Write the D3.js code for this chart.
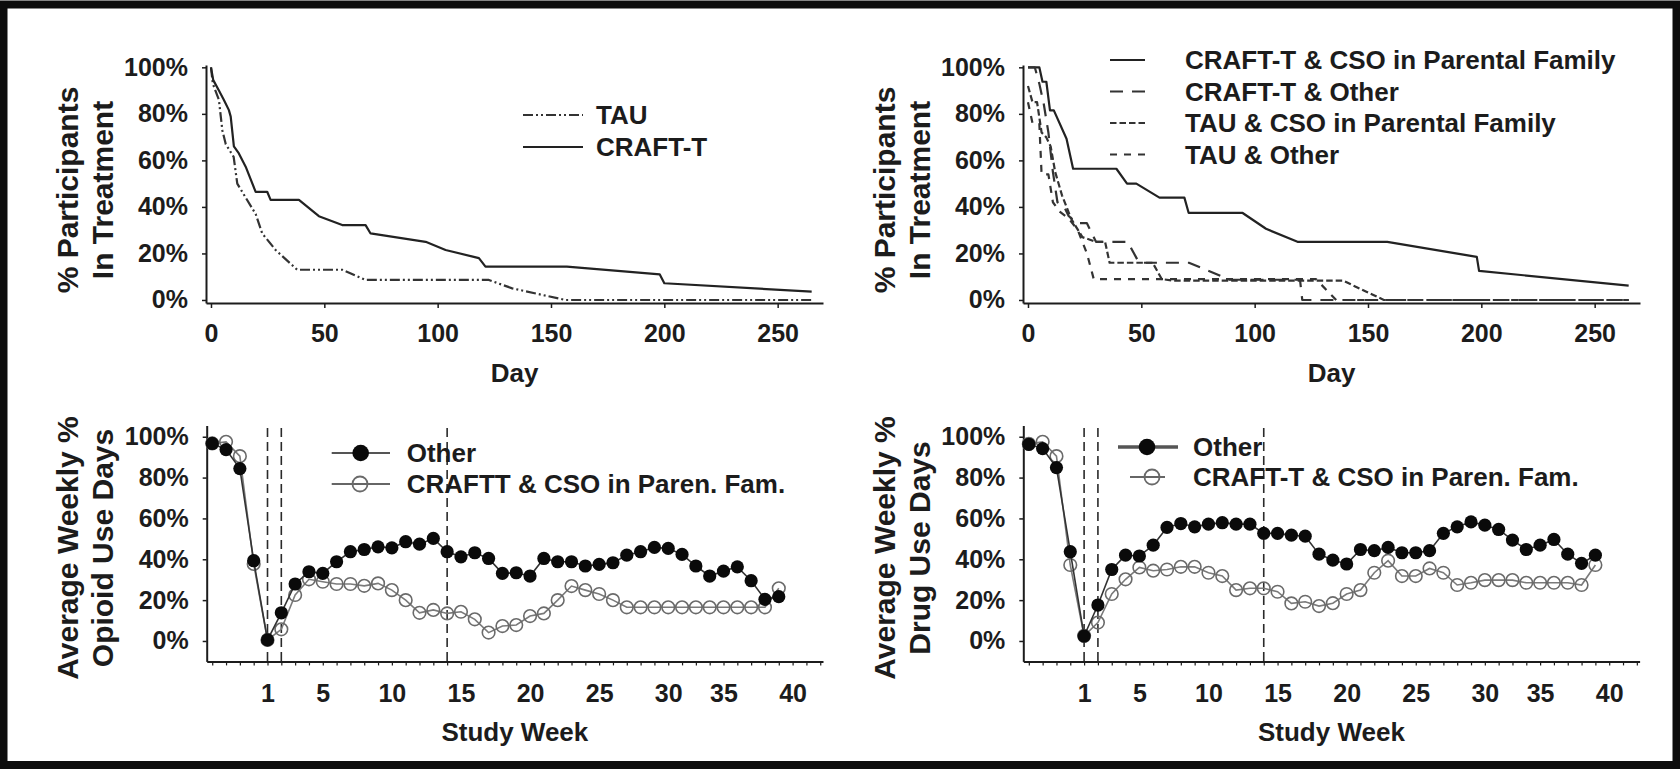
<!DOCTYPE html>
<html><head><meta charset="utf-8">
<script src="https://cdn.jsdelivr.net/npm/d3@7"></script>
<style>
body{margin:0;background:#fff}
svg{display:block}
</style>
</head><body>
<svg id="c" width="1680" height="769"></svg>
<script>
// ---------- DATA ----------
const dayTicks = [0, 50, 100, 150, 200, 250];
const pctTicks = [0, 20, 40, 60, 80, 100];

// Top-left: retention (Kaplan-Meier style)
const tauDay   = [0, 0.8, 3.5, 5, 6.5, 10, 11.6, 15.3, 19.7, 22.6, 28.5, 38, 57.9, 68.2, 122.6, 132.9, 156.4, 265];
const tauPct   = [100, 93, 86, 73, 67, 61.5, 50, 44, 37, 28.6, 21.5, 13, 13, 8.6, 8.6, 5, 0, 0];
const craftDay = [0, 1, 3.5, 5.7, 7.9, 8.7, 10.1, 12.3, 15.3, 19.7, 24.8, 26.3, 38.8, 47.6, 57.9, 68.2, 70.4, 94.7, 103.5, 118.2, 121.1, 157, 198, 200, 265];
const craftPct = [100, 94.5, 90, 86, 81.6, 78.8, 66, 63, 57.3, 46.5, 46.5, 43, 43, 36, 32.2, 32.2, 28.6, 25, 21.5, 18, 14.3, 14.3, 11, 7.2, 3.6];

// Top-right: retention by group
const csoCraftDay   = [0, 5, 6.4, 8.1, 9.7, 11.4, 17, 19.9, 39, 43.7, 47.8, 58, 69, 70.9, 94.7, 105, 118.9, 158.5, 198, 199, 265];
const csoCraftPct   = [100, 100, 93.8, 93.8, 81.5, 81.5, 69.3, 56.4, 56.4, 50, 50, 44, 44, 37.4, 37.4, 30.6, 25, 25, 18.5, 12.5, 6.2];
const otherCraftDay = [0, 3, 5, 7, 9, 11, 13, 16, 18, 22, 26, 30, 39, 44, 49, 71, 89, 120, 121, 265];
const otherCraftPct = [100, 100, 93, 84, 72, 55, 42, 40, 36, 33, 33, 25, 25, 25, 16, 16, 8.7, 8.7, 0, 0];
const csoTauDay     = [0, 2, 4, 6, 8, 10, 12, 15, 19, 24, 30, 34, 36, 55, 59, 64, 139, 157, 265];
const csoTauPct     = [92, 85, 85, 72, 70, 66, 55, 45, 35, 27, 25, 25, 16, 16, 9, 8.3, 8.3, 0, 0];
const otherTauDay   = [0, 2, 5, 6, 9, 11, 14, 18, 22, 26, 29, 127, 136, 265];
const otherTauPct   = [85, 76, 76, 54, 54, 42, 38, 35, 30, 20, 9, 9, 0, 0];

// Bottom: weekly % use days, one value per plotted week slot (4 baseline slots, then study weeks)
const weekLabelText = ["1", "5", "10", "15", "20", "25", "30", "35", "40"];
const weekLabelSlot = [4, 8, 13, 18, 23, 28, 33, 37, 42];
const phaseSlots    = [4, 5, 17];

const otherOpioid = [96.7, 93.7, 84.4, 39.3, 0.5, 13.8, 27.9, 33.9, 33.1, 38.8, 43.7, 44.8, 46.1, 45.6, 48.6, 47.4, 50.2, 43.7, 41.2, 43.2, 40.4, 33.1, 33.4, 31.8, 40.4, 38.8, 38.8, 36.7, 37.5, 38.3, 42, 43.7, 45.8, 45.3, 42.4, 36.7, 31.8, 34.2, 36.3, 29.5, 20.4, 21.7];
const craftOpioid = [96.7, 97.5, 90.5, 37.7, 0.5, 5.7, 22.5, 30.2, 29, 27.9, 27.9, 27, 28.2, 24.9, 20, 13.8, 15.2, 13.5, 14.3, 10.6, 4.1, 7.3, 7.8, 12.2, 13.5, 20, 26.9, 24.9, 23, 20, 16.5, 16.5, 16.5, 16.5, 16.5, 16.5, 16.5, 16.5, 16.5, 16.5, 16.5, 25.8];
const otherDrug   = [96.3, 94.2, 84.9, 43.7, 2.4, 17.6, 35, 42, 41.6, 46.9, 55.6, 57.5, 55.9, 57.2, 57.9, 57.2, 57.2, 52.7, 52.7, 51.8, 51.3, 42.5, 39.6, 37.7, 44.8, 44.2, 45.8, 43.2, 43.2, 44.2, 52.7, 55.9, 58.3, 56.7, 54.6, 49.4, 44.8, 46.9, 49.7, 42.5, 38, 42];
const craftDrug   = [96.5, 97.5, 90.5, 37.2, 2.5, 9, 23, 30.2, 36, 34.4, 35, 36.3, 36.3, 33.4, 31.8, 24.9, 25.8, 25.8, 24.1, 18.4, 19.2, 17.1, 18.5, 23, 24.9, 33.4, 39.3, 31.8, 31.8, 35.5, 33.4, 27.4, 28.5, 29.8, 29.8, 29.8, 28.5, 28.5, 28.5, 28.5, 27.4, 37.2];

// ---------- DRAWING ----------
const FONT = '"Liberation Sans", Arial, Helvetica, sans-serif';
const INK = "#1c1c1c";
const svg = d3.select("#c");
svg.append("rect").attr("width", 1680).attr("height", 769).attr("fill", "#fff");
svg.append("rect").attr("x", 3.5).attr("y", 4.5).attr("width", 1673).attr("height", 760.5)
  .attr("fill", "none").attr("stroke", "#0d0d0d").attr("stroke-width", 8);

function styleAxis(g, fs) {
  g.attr("font-family", FONT).attr("font-size", fs).attr("font-weight", "bold").attr("color", INK);
  g.select(".domain").attr("stroke-width", 2);
  g.selectAll(".tick line").attr("stroke-width", 1.5);
}
function addText(x, y, str, fs, anchor, rot) {
  const t = svg.append("text").attr("font-family", FONT).attr("font-weight", "bold")
    .attr("font-size", fs).attr("fill", INK).attr("text-anchor", anchor || "start").text(str);
  if (rot) t.attr("transform", `translate(${x},${y}) rotate(-90)`);
  else t.attr("x", x).attr("y", y);
  return t;
}
const zip = (a, b) => a.map((v, i) => [v, b[i]]);

function survivalPanel(dx, series, legend) {
  const x = d3.scaleLinear().domain([-2.2, 270]).range([206 + dx, 823 + dx]);
  const y = d3.scaleLinear().domain([-1.3, 101]).range([303, 65]);
  const gx = svg.append("g").attr("transform", "translate(0,303)")
    .call(d3.axisBottom(x).tickValues(dayTicks).tickSize(5).tickSizeOuter(0).tickPadding(16));
  styleAxis(gx, 25);
  const gy = svg.append("g").attr("transform", `translate(${206 + dx},0)`)
    .call(d3.axisLeft(y).tickValues(pctTicks).tickFormat(d => d + "%").tickSize(4).tickSizeOuter(0).tickPadding(14));
  styleAxis(gy, 25);
  const line = d3.line().x(d => x(d[0])).y(d => y(d[1]));
  series.forEach(s => {
    svg.append("path").datum(zip(s.day, s.pct)).attr("d", line)
      .attr("fill", "none").attr("stroke", s.color).attr("stroke-width", s.w)
      .attr("stroke-dasharray", s.dash).attr("stroke-linejoin", "round");
  });
  legend.rows.forEach((r, i) => {
    const yy = legend.y0 + i * legend.dy;
    svg.append("line").attr("x1", legend.x1).attr("x2", legend.x2).attr("y1", yy).attr("y2", yy)
      .attr("stroke", series[r.s].color).attr("stroke-width", series[r.s].w).attr("stroke-dasharray", series[r.s].dash);
    addText(legend.tx, yy + 9, r.label, 26);
  });
  addText((206 + 823) / 2 + dx, 382, "Day", 26, "middle");
  addText(78 + dx, 190, "% Participants", 30, "middle", true);
  addText(113 + dx, 190, "In Treatment", 30, "middle", true);
}

survivalPanel(0, [
  { day: tauDay, pct: tauPct, color: "#333", w: 2.2, dash: "10,3,2,3,2,3" },
  { day: craftDay, pct: craftPct, color: "#222", w: 2.2, dash: null }
], { x1: 523, x2: 583, tx: 596, y0: 115, dy: 32, rows: [{ s: 0, label: "TAU" }, { s: 1, label: "CRAFT-T" }] });

survivalPanel(817, [
  { day: csoCraftDay, pct: csoCraftPct, color: "#222", w: 2.2, dash: null },
  { day: otherCraftDay, pct: otherCraftPct, color: "#333", w: 2.2, dash: "13,9" },
  { day: csoTauDay, pct: csoTauPct, color: "#333", w: 2.2, dash: "6.5,3" },
  { day: otherTauDay, pct: otherTauPct, color: "#333", w: 2.2, dash: "7,7" }
], { x1: 1110, x2: 1145, tx: 1185, y0: 60, dy: 31.5, rows: [
  { s: 0, label: "CRAFT-T & CSO in Parental Family" },
  { s: 1, label: "CRAFT-T & Other" },
  { s: 2, label: "TAU & CSO in Parental Family" },
  { s: 3, label: "TAU & Other" }] });

function weeklyPanel(dx, other, craft, title2, legendCfg) {
  const x = d3.scaleLinear().domain([-0.4, 44.2]).range([206.7 + dx, 823 + dx]);
  const y = d3.scaleLinear().domain([-10, 105.5]).range([661.4, 425.5]);
  const labelMap = {};
  weekLabelSlot.forEach((s, i) => labelMap[s] = weekLabelText[i]);
  const gx = svg.append("g").attr("transform", "translate(0,661.4)")
    .call(d3.axisBottom(x).tickValues(d3.range(0, 45)).tickFormat(i => labelMap[i] || "")
      .tickSize(4).tickSizeOuter(0).tickPadding(19));
  styleAxis(gx, 25);
  gx.selectAll(".tick line").attr("stroke-width", 1.2);
  const gy = svg.append("g").attr("transform", `translate(${206.7 + dx},0)`)
    .call(d3.axisLeft(y).tickValues(pctTicks).tickFormat(d => d + "%").tickSize(4).tickSizeOuter(0).tickPadding(14));
  styleAxis(gy, 25);
  phaseSlots.forEach(s => {
    svg.append("line").attr("x1", x(s)).attr("x2", x(s)).attr("y1", 428).attr("y2", 661)
      .attr("stroke", "#2a2a2a").attr("stroke-width", 1.6).attr("stroke-dasharray", "9,5");
  });
  const line = d3.line().x((d, i) => x(i)).y(d => y(d));
  svg.append("path").datum(craft).attr("d", line).attr("fill", "none").attr("stroke", "#7a7a7a").attr("stroke-width", 1.6);
  svg.selectAll(null).data(craft).enter().append("circle")
    .attr("cx", (d, i) => x(i)).attr("cy", d => y(d)).attr("r", 6.3)
    .attr("fill", "none").attr("stroke", "#6a6a6a").attr("stroke-width", 1.6);
  svg.append("path").datum(other).attr("d", line).attr("fill", "none").attr("stroke", "#333").attr("stroke-width", 1.6);
  svg.selectAll(null).data(other).enter().append("circle")
    .attr("cx", (d, i) => x(i)).attr("cy", d => y(d)).attr("r", 6.6).attr("fill", "#0a0a0a");
  // legend
  const L = legendCfg;
  svg.append("line").attr("x1", L.a1).attr("x2", L.a2).attr("y1", L.y1).attr("y2", L.y1)
    .attr("stroke", "#555").attr("stroke-width", L.w1);
  svg.append("circle").attr("cx", L.m1).attr("cy", L.y1).attr("r", 8.3).attr("fill", "#0a0a0a");
  addText(L.tx, L.y1 + 9, "Other", 26);
  svg.append("line").attr("x1", L.b1).attr("x2", L.b2).attr("y1", L.y2).attr("y2", L.y2)
    .attr("stroke", "#666").attr("stroke-width", 1.8);
  svg.append("circle").attr("cx", L.m2).attr("cy", L.y2).attr("r", 7.5)
    .attr("fill", "none").attr("stroke", "#6a6a6a").attr("stroke-width", 1.8);
  addText(L.tx, L.y2 + 9, L.label2, 26);
  addText((206.7 + 823) / 2 + dx, 741, "Study Week", 26, "middle");
  addText(78 + dx, 548, "Average Weekly %", 30, "middle", true);
  addText(113 + dx, 548, title2, 30, "middle", true);
}

weeklyPanel(0, otherOpioid, craftOpioid, "Opioid Use Days",
  { a1: 331.7, a2: 390, m1: 360.7, y1: 453, w1: 2, b1: 331.7, b2: 390, m2: 360, y2: 484, tx: 406.7,
    label2: "CRAFTT & CSO in Paren. Fam." });
weeklyPanel(816.6, otherDrug, craftDrug, "Drug Use Days",
  { a1: 1118, a2: 1178, m1: 1147, y1: 447, w1: 3.5, b1: 1130, b2: 1165, m2: 1152, y2: 477, tx: 1193,
    label2: "CRAFT-T & CSO in Paren. Fam." });
</script>
</body></html>
